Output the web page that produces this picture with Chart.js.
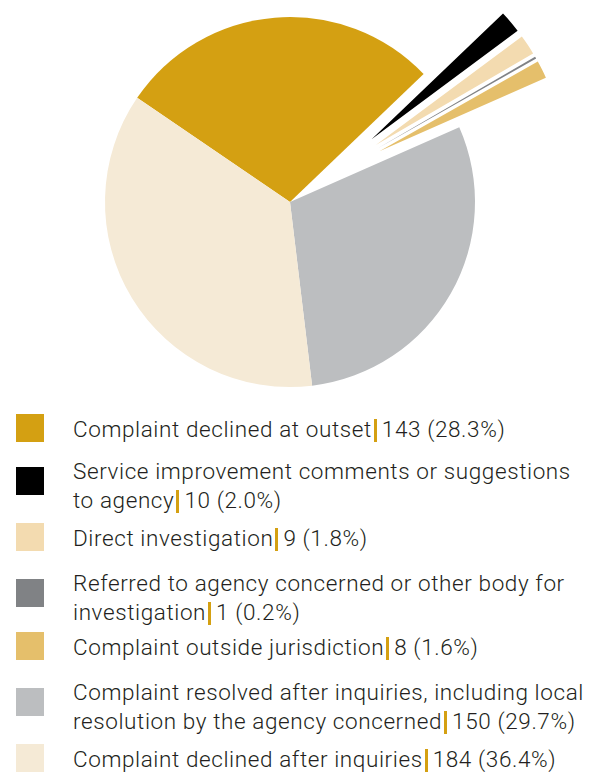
<!DOCTYPE html>
<html>
<head>
<meta charset="utf-8">
<script src="https://cdn.jsdelivr.net/npm/chart.js@4"></script>
<style>
  html, body { margin: 0; padding: 0; background: #fff; }
  body { width: 595px; height: 772px; position: relative; overflow: hidden; }
  #pie { position: absolute; left: 0; top: 0; }
  .item { position: absolute; left: 16px; height: 28px; display: flex; align-items: center; }
  .swatch { width: 28px; height: 28px; flex: none; }
  .text {
    position: absolute; left: 57px; white-space: nowrap;
    font-family: Roboto, "Liberation Sans", sans-serif; font-weight: 300;
    font-size: 22.5px; letter-spacing: 0.6px; line-height: 29px; color: #231f20;
  }
  .sep { display: inline-block; width: 3px; height: 23px; background: #d4a012;
         vertical-align: -5px; margin: 0 5px 0 2px; }
</style>
</head>
<body>
<canvas id="pie" width="580" height="404"></canvas>
<div id="legend"></div>
<script>
// Complaint outcomes
const labels = [
    ['Complaint declined at outset'],
    ['Service improvement comments or suggestions', 'to agency'],
    ['Direct investigation'],
    ['Referred to agency concerned or other body for', 'investigation'],
    ['Complaint outside jurisdiction'],
    ['Complaint resolved after inquiries, including local', 'resolution by the agency concerned'],
    ['Complaint declined after inquiries']
];
const counts = [143, 10, 9, 1, 8, 150, 184];
const colours = ['#d4a012', '#000000', '#f3dbb0', '#808285', '#e5bf6b', '#bcbec0', '#f5ead6'];
const pulledOut = [false, true, true, true, true, false, false];

const total = counts.reduce((a, b) => a + b, 0);

// Pull the small slices out as a fan (Chart.js 'offset' would thin them to nothing)
const explodeSlices = {
    id: 'explodeSlices',
    afterDatasetUpdate(chart, args) {
        const arcs = args.meta.data.filter((arc, i) => pulledOut[i]);
        if (!arcs.length) return;
        const groupMid = (arcs[0].startAngle + arcs[arcs.length - 1].endAngle) / 2;
        arcs.forEach(arc => {
            const mid = (arc.startAngle + arc.endAngle) / 2;
            arc.x += Math.cos(mid) * 60 + Math.cos(groupMid) * 43;
            arc.y += Math.sin(mid) * 60 + Math.sin(groupMid) * 43;
            arc.outerRadius = 182;
        });
    }
};

new Chart(document.getElementById('pie').getContext('2d'), {
    type: 'pie',
    data: {
        labels: labels.map(l => l.join(' ')),
        datasets: [{
            data: counts,
            backgroundColor: colours,
            borderWidth: 0,
            clip: false
        }]
    },
    options: {
        responsive: false,
        animation: false,
        radius: 185,
        rotation: -55.7,
        layout: { padding: 0 },
        plugins: {
            legend: { display: false },
            tooltip: { enabled: false }
        }
    },
    plugins: [explodeSlices]
});

// HTML legend (label | count (pct))
const rowTops = [414, 467, 523, 579, 632, 688, 744];
const legend = document.getElementById('legend');
labels.forEach((lines, i) => {
    const item = document.createElement('div');
    item.className = 'item';
    item.style.top = rowTops[i] + 'px';

    const sw = document.createElement('div');
    sw.className = 'swatch';
    sw.style.background = colours[i];
    item.appendChild(sw);

    const txt = document.createElement('div');
    txt.className = 'text';
    const pct = (counts[i] / total * 100).toFixed(1);
    let html = lines.slice(0, -1).map(l => l + '<br>').join('');
    html += lines[lines.length - 1] + '<span class="sep"></span>' + counts[i] + ' (' + pct + '%)';
    txt.innerHTML = html;
    txt.style.top = (lines.length > 1 ? -10 : 1) + 'px';
    item.appendChild(txt);

    legend.appendChild(item);
});
</script>
</body>
</html>
